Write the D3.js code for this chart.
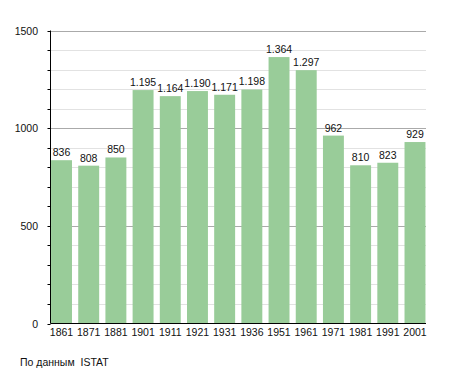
<!DOCTYPE html>
<html><head><meta charset="utf-8">
<script src="https://cdn.jsdelivr.net/npm/d3@7"></script>
<style>body{margin:0;background:#fff}svg{display:block}text{font-family:"Liberation Sans",Arial,sans-serif;fill:#111}</style>
</head><body>
<script>
const years = ["1861","1871","1881","1901","1911","1921","1931","1936","1951","1961","1971","1981","1991","2001"];
const population = [836,808,850,1195,1164,1190,1171,1198,1364,1297,962,810,823,929];
const yTicks = [0,500,1000,1500];
const source = "По данным  ISTAT";

(function(){
const W=455,H=373;
const svg=d3.select("body").append("svg").attr("width",W).attr("height",H);
const pL=50.5,pR=426,pT=30.5,pB=323.5;
const x=d3.scaleBand().domain(years).range([pL,pR]).paddingInner(0.23).paddingOuter(0.02);
const y=d3.scaleLinear().domain([0,1500]).range([pB,pT]);
const minor=d3.range(100,1500,100).filter(v=>v%500!==0);
const fmt=v=>v>=1000?d3.format(",")(v).replace(",","."):String(v);

svg.append("g").selectAll("line").data(minor).join("line")
 .attr("x1",pL).attr("x2",pR).attr("y1",d=>Math.round(y(d))+0.5).attr("y2",d=>Math.round(y(d))+0.5)
 .attr("stroke","#e2e2e2").attr("stroke-width",1);
svg.append("g").selectAll("line").data(yTicks.filter(d=>d>0)).join("line")
 .attr("x1",pL).attr("x2",pR).attr("y1",d=>Math.round(y(d))+0.5).attr("y2",d=>Math.round(y(d))+0.5)
 .attr("stroke","#aaaaaa").attr("stroke-width",1);

svg.append("g").selectAll("rect").data(population).join("rect")
 .attr("x",(d,i)=>x(years[i])).attr("width",x.bandwidth())
 .attr("y",d=>y(d)).attr("height",d=>y(0)-y(d)).attr("fill","#99cc99");

svg.append("g").selectAll("text").data(population).join("text")
 .attr("x",(d,i)=>x(years[i])+x.bandwidth()/2).attr("y",d=>y(d)-4)
 .attr("text-anchor","middle").attr("font-size","10.5px").text(fmt);

svg.append("line").attr("x1",pL).attr("x2",pL).attr("y1",pT).attr("y2",pB).attr("stroke","#000");
svg.append("line").attr("x1",pL).attr("x2",pR).attr("y1",pB).attr("y2",pB).attr("stroke","#000");
svg.append("g").selectAll("line").data(d3.range(0,1501,100)).join("line")
 .attr("x1",pL-3).attr("x2",pL).attr("y1",d=>Math.round(y(d))+0.5).attr("y2",d=>Math.round(y(d))+0.5)
 .attr("stroke","#000");

svg.append("g").selectAll("text").data(yTicks).join("text")
 .attr("x",38).attr("y",d=>y(d)+4).attr("text-anchor","end").attr("font-size","10.5px").text(d=>d);

svg.append("g").selectAll("text").data(years).join("text")
 .attr("x",d=>x(d)+x.bandwidth()/2).attr("y",336).attr("text-anchor","middle").attr("font-size","10.5px").text(d=>d);

svg.append("text").attr("x",20).attr("y",366).attr("font-size","10.5px").style("white-space","pre").text(source);
})();
</script>
</body></html>
